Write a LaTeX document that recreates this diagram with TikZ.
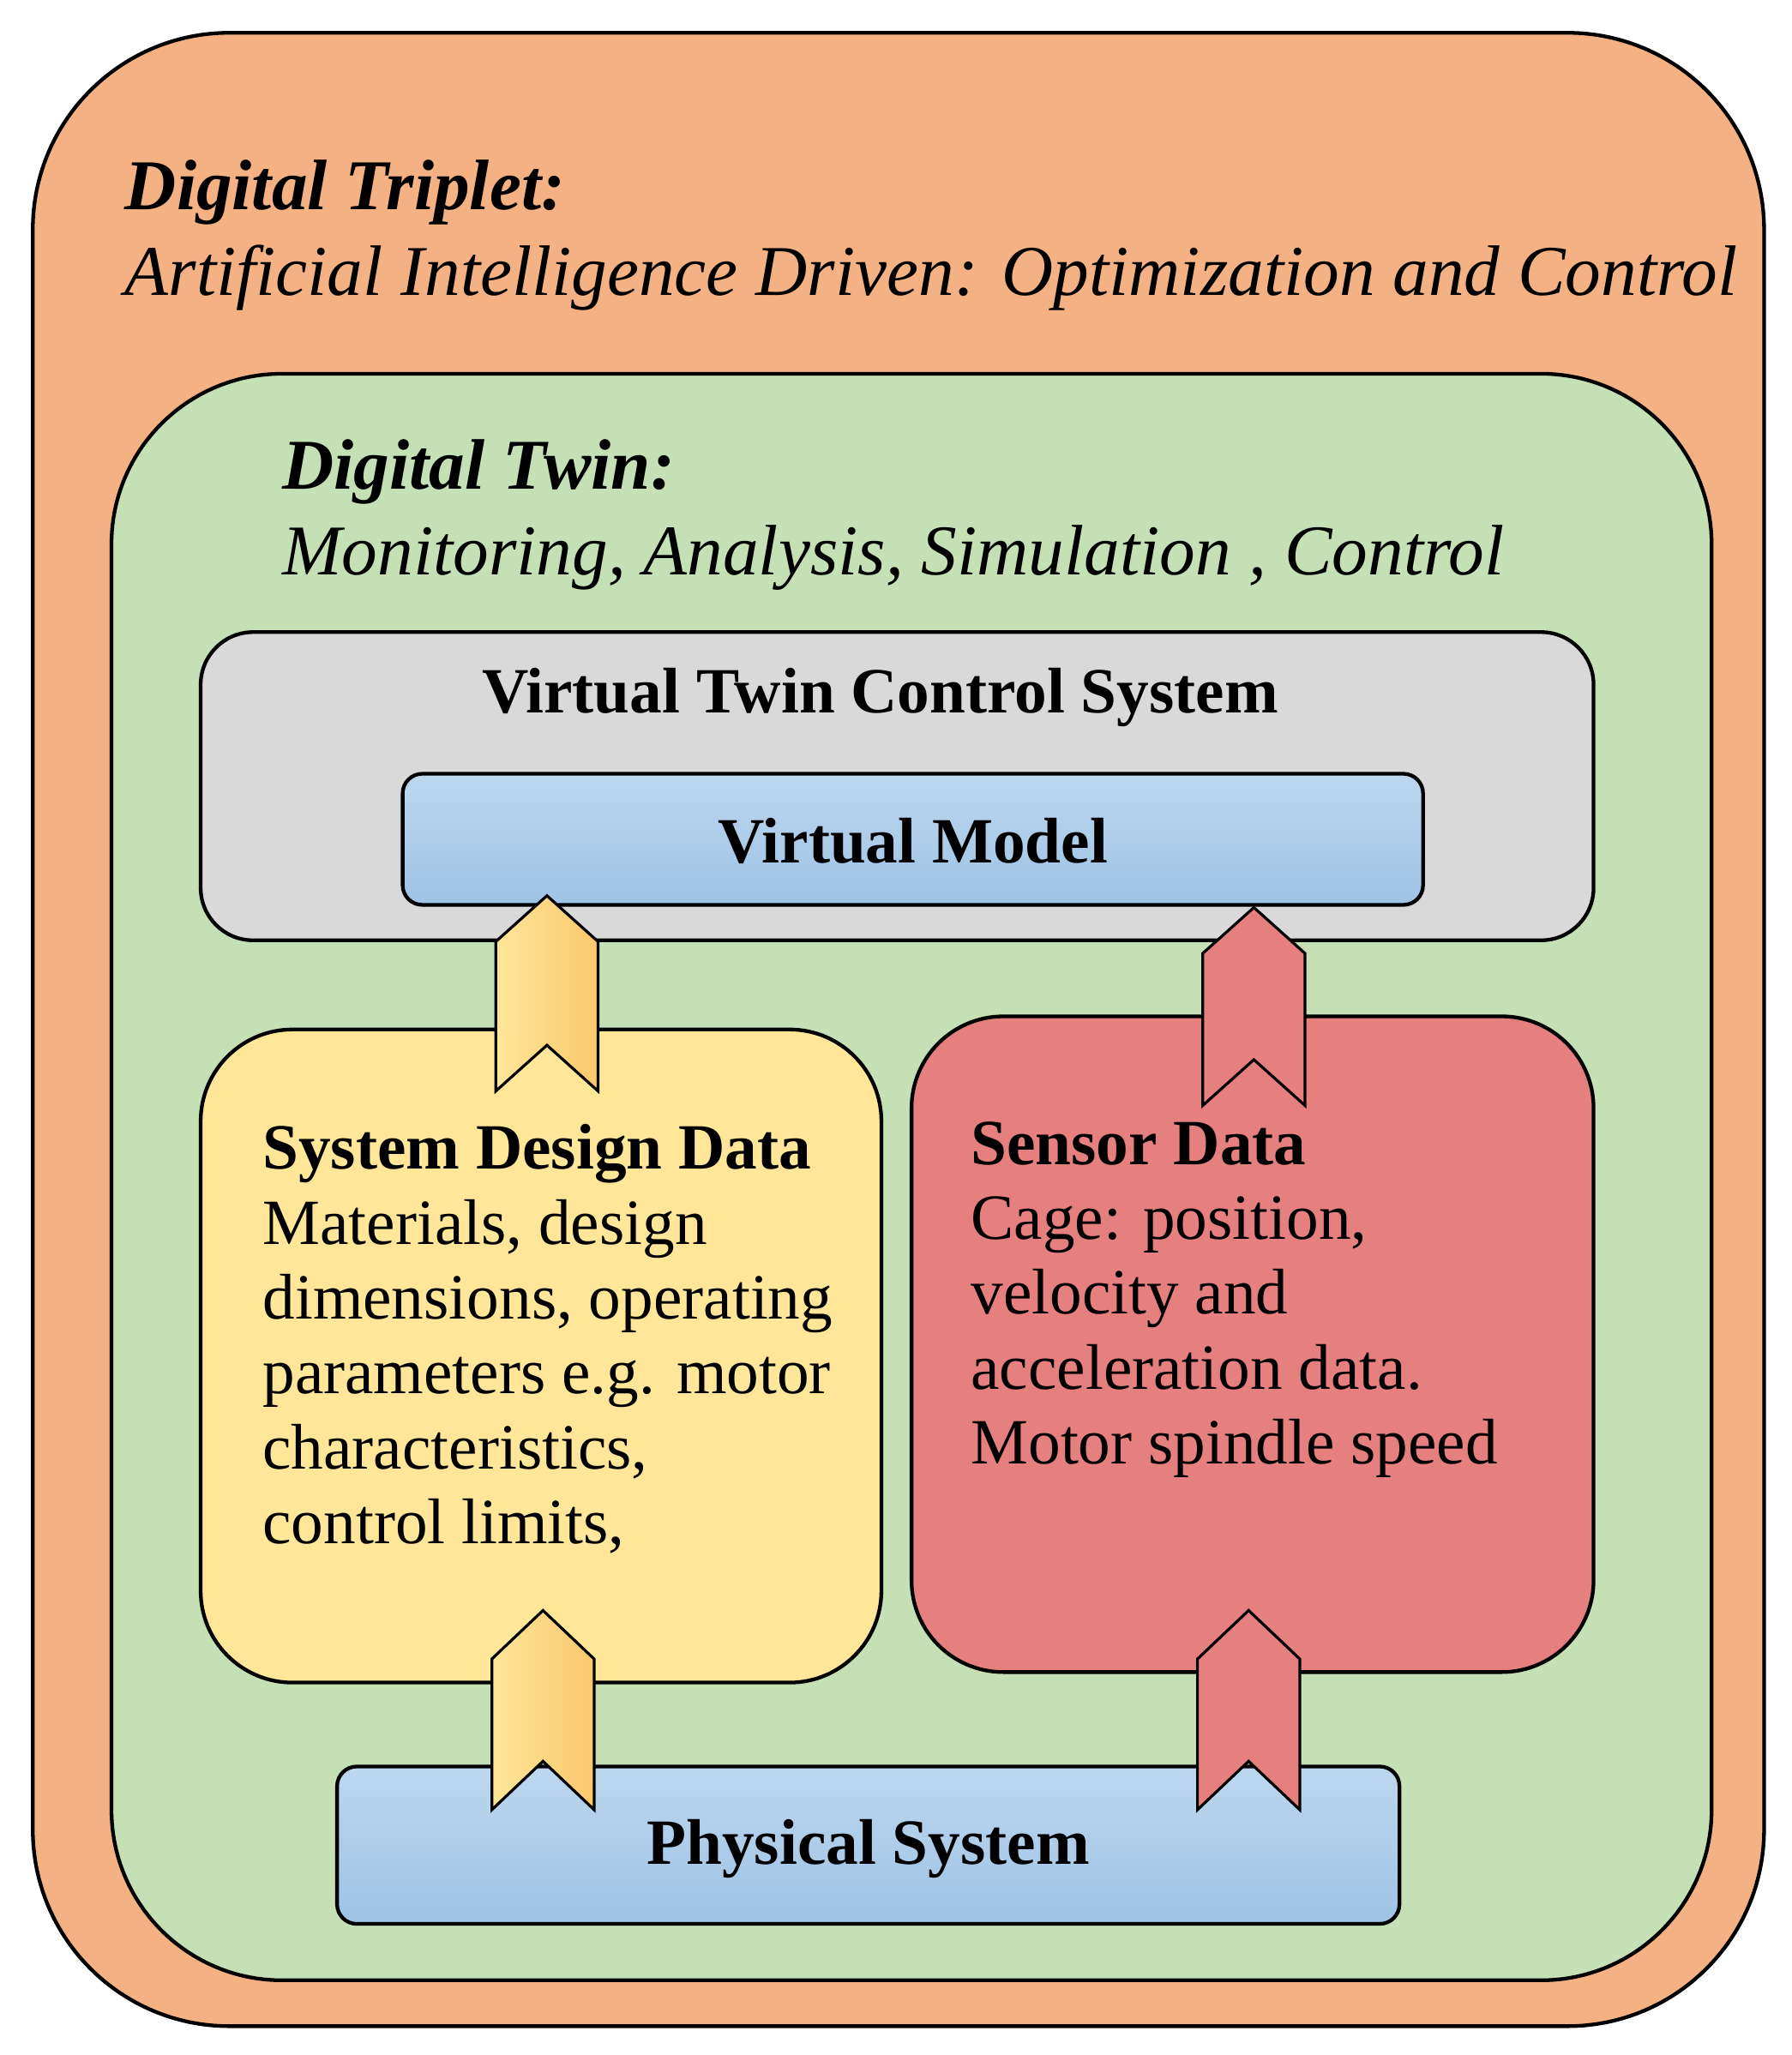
\documentclass[tikz,border=0pt]{standalone}
\usepackage{fontspec}
\setmainfont{Liberation Serif}
\begin{document}
\begin{tikzpicture}[x=0.02cm,y=-0.02cm,
  box/.style={draw=black,line width=1.6pt},
  txt/.style={font=\fontsize{28}{32.5}\selectfont,anchor=north west,align=left,inner sep=0pt},
  head/.style={anchor=west,inner sep=0pt},
  chev/.style={draw=black,line width=1.2pt}]
\useasboundingbox (0,0) rectangle (1366,1567);
\fill[white] (0,0) rectangle (1366,1567);
\draw[box,fill={rgb,255:red,244;green,177;blue,131},rounded corners=3cm] (25,25) rectangle (1345,1545);
\draw[box,fill={rgb,255:red,197;green,224;blue,180},rounded corners=2.6cm] (85,285) rectangle (1305,1510);
\draw[box,fill={rgb,255:red,217;green,217;blue,217},rounded corners=0.8cm] (153,482) rectangle (1215,717);
\draw[box,top color={rgb,255:red,189;green,215;blue,238},bottom color={rgb,255:red,157;green,195;blue,230},rounded corners=0.3cm] (307,590) rectangle (1085,690);
\draw[box,fill={rgb,255:red,255;green,230;blue,153},rounded corners=1.4cm] (153,785) rectangle (672,1283);
\draw[box,fill={rgb,255:red,229;green,128;blue,127},rounded corners=1.4cm] (695,775) rectangle (1215,1275);
\draw[box,top color={rgb,255:red,189;green,215;blue,238},bottom color={rgb,255:red,157;green,195;blue,230},rounded corners=0.3cm] (257,1347) rectangle (1067,1467);
% chevrons
\tikzset{ychev/.style={chev,left color={rgb,255:red,255;green,230;blue,153},right color={rgb,255:red,250;green,200;blue,110}},
         rchev/.style={chev,fill={rgb,255:red,229;green,128;blue,127}}}
\draw[ychev] (378,832)--(378,718)--(417,683)--(456,718)--(456,832)--(417,797)--cycle;
\draw[rchev] (917,843)--(917,727)--(956,692)--(995,727)--(995,843)--(956,808)--cycle;
\draw[ychev] (375,1380)--(375,1265)--(414,1228)--(453,1265)--(453,1380)--(414,1343)--cycle;
\draw[rchev] (913,1380)--(913,1265)--(952,1228)--(991,1265)--(991,1380)--(952,1343)--cycle;
% texts
\node[head,font=\fontsize{31}{38}\selectfont\bfseries\itshape] (t1) at (95,147) {Digital Triplet:};
\node[head,font=\fontsize{31}{38}\selectfont\itshape] (t2) at (95,212) {Artificial Intelligence Driven: Optimization and Control};
\node[head,font=\fontsize{31}{38}\selectfont\bfseries\itshape] (t3) at (215,360) {Digital Twin:};
\node[head,font=\fontsize{31}{38}\selectfont\itshape] (t4) at (215,425) {Monitoring, Analysis, Simulation , Control};
\node[font=\fontsize{28}{34}\selectfont\bfseries] (vt) at (671,532) {Virtual Twin Control System};
\node[font=\fontsize{28}{34}\selectfont\bfseries] (vm) at (696,641) {Virtual Model};
\node[font=\fontsize{28}{34}\selectfont\bfseries] (ps) at (662,1410) {Physical System};
\node[txt] (sd) at (200,857) {\textbf{System Design Data}\\Materials, design\\dimensions, operating\\parameters e.g. motor\\characteristics,\\control limits,};
\node[txt] (sn) at (740,855) {\textbf{Sensor Data}\\Cage: position,\\velocity and\\acceleration data.\\Motor spindle speed};
\end{tikzpicture}
\end{document}
